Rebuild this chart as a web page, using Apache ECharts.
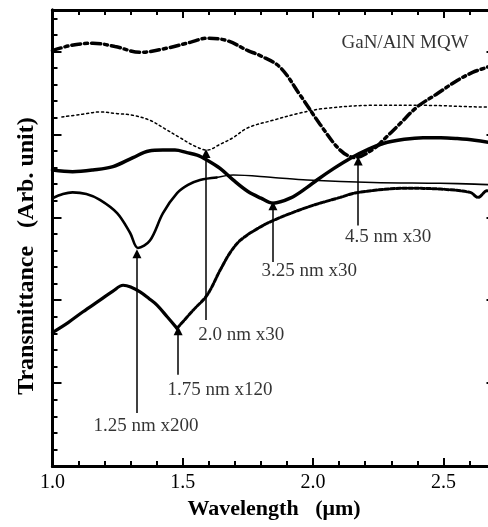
<!DOCTYPE html>
<html><head><meta charset="utf-8">
<script src="https://cdn.jsdelivr.net/npm/echarts@6/dist/echarts.min.js"></script>
<style>html,body{margin:0;padding:0;background:#fff}#c{width:488px;height:527px}</style>
</head><body><div id="c"></div>
<script>
// ---------- DATA ----------
const xTickLabels = ['1.0', '1.5', '2.0', '2.5'];

// 4.5 nm x30 (dash-dot)
const wl_45 = [1.00,1.067,1.155,1.24,1.336,1.44,1.528,1.593,1.67,1.75,1.797,1.873,1.951,2.027,2.104,2.161,2.23,2.269,2.334,2.399,2.476,2.553,2.614,2.668,2.70];
const tr_45 = [5.01,5.07,5.10,5.06,4.99,5.04,5.11,5.16,5.13,5.01,4.95,4.81,4.47,4.12,3.81,3.72,3.82,3.93,4.13,4.33,4.49,4.65,4.75,4.81,4.85];

// 2.0 nm x30 (dotted)
const wl_20 = [1.036,1.109,1.182,1.25,1.309,1.374,1.43,1.489,1.545,1.593,1.643,1.693,1.75,1.846,1.94,2.038,2.23,2.422,2.668,2.70];
const tr_20 = [4.21,4.24,4.27,4.25,4.23,4.17,4.07,3.96,3.86,3.81,3.88,3.96,4.08,4.17,4.25,4.31,4.35,4.35,4.33,4.33];

// 3.25 nm x30 (thick solid)
const wl_325 = [1.0,1.077,1.155,1.232,1.309,1.37,1.424,1.47,1.516,1.555,1.593,1.643,1.693,1.75,1.80,1.846,1.912,1.977,2.015,2.08,2.142,2.205,2.269,2.35,2.422,2.49,2.553,2.62,2.70];
const tr_325 = [3.57,3.55,3.57,3.61,3.72,3.80,3.81,3.81,3.78,3.75,3.69,3.59,3.45,3.31,3.23,3.17,3.23,3.36,3.45,3.59,3.71,3.81,3.89,3.94,3.96,3.96,3.95,3.93,3.89];

// 1.25 nm x200 (solid, thick part then thin part)
const wl_125a = [1.0,1.04,1.077,1.13,1.182,1.248,1.298,1.328,1.374,1.424,1.478,1.52,1.566,1.63];
const tr_125a = [3.23,3.28,3.30,3.28,3.21,3.05,2.81,2.63,2.72,3.05,3.29,3.39,3.45,3.48];
const wl_125b = [1.63,1.693,1.846,1.977,2.23,2.488,2.62,2.70];
const tr_125b = [3.48,3.51,3.48,3.45,3.42,3.41,3.40,3.39];

// 1.75 nm x120 (solid up to the dip, dashed after)
const wl_175a = [1.0,1.06,1.117,1.182,1.232,1.271,1.30,1.336,1.37,1.401,1.44,1.478];
const tr_175a = [1.61,1.73,1.86,2.00,2.11,2.18,2.16,2.10,2.02,1.94,1.80,1.66];
const wl_175b = [1.478,1.54,1.593,1.643,1.681,1.72,1.785,1.846,1.977,2.104,2.173,2.361,2.488,2.603,2.633,2.668,2.70];
const tr_175b = [1.66,1.88,2.06,2.36,2.57,2.72,2.86,2.96,3.12,3.24,3.30,3.35,3.34,3.30,3.24,3.32,3.32];

// annotation arrows (x, from y, to y)
const arrowX    = [1.324, 1.482, 1.589, 1.846, 2.173];
const arrowFrom = [0.64, 1.10, 1.76, 2.46, 2.90];
const arrowTo   = [2.56, 1.63, 3.77, 3.14, 3.68];

// annotation texts and anchor points
const annotText = ['1.25 nm x200', '1.75 nm x120', '2.0 nm x30', '3.25 nm x30', '4.5 nm x30', 'GaN/AlN MQW'];
const annotX    = [1.359, 1.643, 1.724, 1.985, 2.288, 2.353];
const annotY    = [0.48, 0.92, 1.58, 2.35, 2.76, 5.10];

// ---------- CHART ----------
const FONT = '"Liberation Serif", "Times New Roman", serif';
const X_MIN = 1.0, X_MAX = 2.7, Y_MIN = 0, Y_MAX = 5.5;
const zip = (a, b) => a.map((v, i) => [v, b[i]]);

function xAx(pos, interval, len, labels, name) {
  return {
    type: 'value', position: pos, min: X_MIN, max: X_MAX, interval: interval,
    name: name || '', nameLocation: 'middle', nameGap: 22,
    nameTextStyle: { fontFamily: FONT, fontSize: 22, fontWeight: 'bold', color: '#000' },
    axisLine: { show: true, onZero: false, lineStyle: { color: '#000', width: 3 } },
    axisTick: { show: true, inside: true, length: len, lineStyle: { color: '#000', width: 2 } },
    axisLabel: {
      show: labels, margin: 7, fontFamily: FONT, fontSize: 20, color: '#000',
      formatter: v => { const s = v.toFixed(1); return xTickLabels.includes(s) ? s : ''; }
    },
    splitLine: { show: false }
  };
}
function yAx(pos, interval, len) {
  return {
    type: 'value', position: pos, min: Y_MIN, max: Y_MAX, interval: interval,
    axisLine: { show: true, onZero: false, lineStyle: { color: '#000', width: 3 } },
    axisTick: { show: true, inside: true, length: len, lineStyle: { color: '#000', width: 2 } },
    axisLabel: { show: false },
    splitLine: { show: false }
  };
}

function lineSeries(xs, ys, width, type) {
  return {
    type: 'line', xAxisIndex: 0, yAxisIndex: 0, data: zip(xs, ys),
    smooth: 0.35, symbol: 'none', silent: true,
    lineStyle: { color: '#000', width: width, type: type || 'solid', cap: 'round' }
  };
}

const option = {
  backgroundColor: '#fff',
  animation: false,
  grid: { left: 52.5, top: 10, width: 443, height: 456, containLabel: false, outerBoundsMode: 'none' },
  xAxis: [
    xAx('bottom', 0.5, 8, true, 'Wavelength   (\u03bcm)'),
    xAx('bottom', 0.1, 5, false),
    xAx('top', 0.5, 8, false),
    xAx('top', 0.1, 5, false)
  ],
  yAxis: [
    yAx('left', 1, 9),
    yAx('left', 0.2, 5),
    yAx('right', 1, 9),
    yAx('right', 0.2, 5)
  ],
  graphic: [{
    type: 'text', x: 27, y: 256, rotation: Math.PI / 2,
    style: { text: 'Transmittance   (Arb. unit)', fontFamily: FONT, fontSize: 24, fontWeight: 'bold',
             fill: '#000', align: 'center', verticalAlign: 'middle' }
  }],
  series: [
    lineSeries(wl_45, tr_45, 3.5, [9, 4, 3, 4]),
    lineSeries(wl_20, tr_20, 1.5, [2, 3]),
    lineSeries(wl_325, tr_325, 3.5),
    lineSeries(wl_125a, tr_125a, 2.6),
    lineSeries(wl_125b, tr_125b, 1.6),
    lineSeries(wl_175a, tr_175a, 3.2),
    lineSeries(wl_175b, tr_175b, 3, [4, 2]),
    {
      type: 'lines', coordinateSystem: 'cartesian2d', xAxisIndex: 0, yAxisIndex: 0, silent: true,
      symbol: ['none', 'triangle'], symbolSize: [1, 9],
      lineStyle: { color: '#000', width: 1.5, opacity: 1 },
      data: arrowX.map((x, i) => ({ coords: [[x, arrowFrom[i]], [x, arrowTo[i]]] }))
    },
    {
      type: 'scatter', xAxisIndex: 0, yAxisIndex: 0, symbolSize: 0, silent: true,
      label: { show: true, position: 'inside', formatter: p => p.name,
               fontFamily: FONT, fontSize: 19, color: '#000' },
      data: annotText.map((t, i) => ({ name: t, value: [annotX[i], annotY[i]] }))
    }
  ]
};

const chart = echarts.init(document.getElementById('c'), null, { renderer: 'canvas' });
chart.setOption(option);
</script>
</body></html>
